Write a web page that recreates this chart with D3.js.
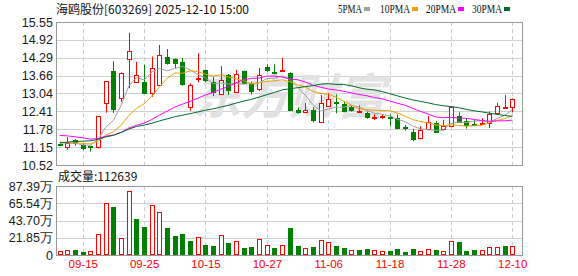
<!DOCTYPE html>
<html>
<head>
<meta charset="utf-8">
<script src="https://cdn.jsdelivr.net/npm/d3@7"></script>
<style>
  body { margin: 0; background: #fff; }
  svg text { font-family: "Liberation Sans", Arial, sans-serif; }
</style>
</head>
<body>
<script>
'use strict';

// trading days on the chart
const dates = [
  '09-10','09-11','09-12','09-15','09-16','09-17','09-18','09-19','09-22','09-23',
  '09-24','09-25','09-26','09-29','09-30','10-09','10-10','10-13','10-14','10-15',
  '10-16','10-17','10-20','10-21','10-22','10-23','10-24','10-27','10-28','10-29',
  '10-30','10-31','11-03','11-04','11-05','11-06','11-07','11-10','11-11','11-12',
  '11-13','11-14','11-17','11-18','11-19','11-20','11-21','11-24','11-25','11-26',
  '11-27','11-28','12-01','12-02','12-03','12-04','12-05','12-08','12-09','12-10'
];

const opens = [
  11.26, 11.16, 11.41, 11.21, 11.19, 11.14, 12.71, 13.84, 12.90, 14.24,
  13.43, 13.44, 13.04, 13.33, 14.32, 14.25, 14.15, 12.55, 13.56, 13.86,
  13.44, 13.01, 13.68, 13.08, 13.82, 13.42, 13.17, 13.98, 13.78, 13.80,
  13.76, 12.44, 12.38, 12.45, 12.02, 12.58, 12.73, 12.67, 12.55, 12.40,
  12.36, 12.19, 12.21, 12.22, 12.16, 11.84, 11.67, 11.45, 11.76, 12.00,
  11.79, 11.87, 12.24, 12.07, 11.95, 11.95, 11.99, 12.33, 12.54, 12.55
];
const highs = [
  11.28, 11.50, 11.43, 11.25, 11.20, 12.24, 13.48, 14.17, 13.78, 15.17,
  14.15, 14.05, 14.33, 14.74, 14.60, 14.27, 14.28, 13.39, 14.45, 13.88,
  13.62, 14.00, 13.72, 13.86, 13.84, 13.45, 13.93, 14.06, 14.06, 14.29,
  13.78, 12.55, 12.70, 12.55, 12.98, 13.05, 13.00, 12.75, 12.60, 12.62,
  12.40, 12.30, 12.29, 12.30, 12.30, 11.93, 11.79, 11.88, 12.24, 12.06,
  12.11, 12.57, 12.37, 12.16, 12.13, 12.17, 12.40, 12.71, 12.98, 12.86
];
const lows = [
  11.18, 11.06, 11.20, 11.04, 10.99, 11.10, 12.36, 12.35, 12.74, 13.22,
  13.42, 13.02, 12.92, 13.30, 14.05, 13.93, 13.31, 12.43, 13.43, 13.43,
  12.95, 13.00, 12.98, 13.06, 13.38, 13.00, 13.12, 13.80, 13.71, 13.79,
  12.47, 12.33, 12.37, 12.01, 12.02, 12.56, 12.34, 12.38, 12.40, 12.38,
  12.15, 12.10, 12.14, 11.88, 11.78, 11.73, 11.36, 11.42, 11.75, 11.65,
  11.73, 11.85, 12.00, 11.80, 11.90, 11.92, 11.82, 12.30, 12.53, 12.37
];
const closes = [
  11.24, 11.30, 11.29, 11.12, 11.14, 12.23, 13.47, 12.50, 13.77, 14.53,
  13.69, 13.05, 13.92, 14.39, 14.12, 14.11, 13.39, 13.33, 13.58, 13.52,
  13.09, 13.50, 13.14, 13.71, 13.40, 13.13, 13.68, 13.89, 13.76, 13.85,
  12.47, 12.36, 12.45, 12.11, 12.69, 12.83, 12.70, 12.43, 12.44, 12.42,
  12.21, 12.22, 12.23, 12.19, 11.81, 11.80, 11.44, 11.74, 12.02, 11.67,
  11.88, 12.55, 12.04, 11.93, 11.92, 11.98, 12.32, 12.58, 12.56, 12.84
];
// volume in 手
const volumes = [
  51000, 63000, 68000, 42000, 51000, 266000, 659000, 608000, 211000, 811000,
  456000, 355000, 633000, 545000, 342000, 241000, 266000, 177000, 224000, 127000,
  114000, 249000, 152000, 173000, 89000, 97000, 198000, 122000, 89000, 122000,
  342000, 114000, 84000, 101000, 190000, 165000, 114000, 89000, 63000, 63000,
  76000, 63000, 51000, 55000, 72000, 38000, 76000, 55000, 72000, 63000,
  51000, 173000, 165000, 51000, 63000, 59000, 97000, 97000, 114000, 112639
];
// closes of the days before 09-10, only used to start the moving averages
const priorCloses = [
  10.62, 10.70, 10.66, 10.74, 10.80, 10.77, 10.85, 10.82, 10.90, 10.94,
  11.62, 11.95, 11.88, 12.02, 11.84, 11.76, 11.70, 11.81, 11.67, 11.65,
  11.52, 11.40, 11.31, 11.28, 11.29, 11.33, 11.34, 11.39, 11.20
];

const priceTicks = [10.52, 11.15, 11.78, 12.41, 13.04, 13.66, 14.29, 14.92, 15.55];
const volTicks = [0, 218475, 436950, 655425, 873900];
const volTickLabels = ['0', '21.85万', '43.70万', '65.54万', '87.39万'];
const xTickLabels = ['09-15', '09-25', '10-15', '10-27', '11-06', '11-18', '11-28', '12-10'];
const maPeriods = [5, 10, 20, 30];

const maColors = ['#a0a0a0', '#f0a000', '#ff00ff', '#006b2e'];
const upColor = '#ff0000';
const downColor = '#008000';

const W = 578, H = 276;
const left = 56, right = 522;
const priceTop = 22, priceBottom = 165;
const volTop = 186, volBottom = 255;

const svg = d3.select('body').append('svg')
  .attr('width', W)
  .attr('height', H);

const x = d3.scalePoint()
  .domain(dates)
  .range([59.8, 512.2]);

const y = d3.scaleLinear()
  .domain([priceTicks[0], priceTicks[priceTicks.length - 1]])
  .range([priceBottom, priceTop]);

const yVol = d3.scaleLinear()
  .domain([0, volTicks[volTicks.length - 1]])
  .range([volBottom, volTop]);

const px = (d) => Math.round(x(d)) + 0.5;

// ---- grid for both panels
function drawGrid(ticks, scale, top, bottom) {
  svg.append('g').selectAll('line')
    .data(ticks.slice(1, -1))
    .enter().append('line')
      .attr('x1', left).attr('x2', right)
      .attr('y1', (d) => Math.round(scale(d)) + 0.5)
      .attr('y2', (d) => Math.round(scale(d)) + 0.5)
      .attr('stroke', '#d0d0d0');

  svg.append('g').selectAll('line')
    .data(xTickLabels)
    .enter().append('line')
      .attr('x1', px).attr('x2', px)
      .attr('y1', top).attr('y2', bottom)
      .attr('stroke', '#cccccc')
      .attr('stroke-dasharray', '4,3');

  svg.append('rect')
    .attr('x', left + 0.5).attr('y', top + 0.5)
    .attr('width', right - left).attr('height', bottom - top)
    .attr('fill', 'none')
    .attr('stroke', '#999');
}
drawGrid(priceTicks, y, priceTop, priceBottom);
drawGrid(volTicks, yVol, volTop, volBottom);

// watermark
svg.append('text')
  .attr('x', 193).attr('y', 114)
  .style('font-family', '"Noto Sans CJK SC"')
  .style('font-size', '48px')
  .style('font-weight', 'bold')
  .style('font-style', 'italic')
  .attr('fill', '#e2e2e2')
  .text('东方财富');

// ---- axes
const yAxis = d3.axisLeft(y).tickValues(priceTicks).tickSize(0).tickPadding(3)
  .tickFormat((d) => d.toFixed(2));
svg.append('g')
  .attr('transform', `translate(${left},0)`)
  .call(yAxis)
  .call((g) => g.select('.domain').remove())
  .selectAll('text')
    .style('font-family', '"Liberation Sans", Arial, sans-serif')
    .style('font-size', '12.5px')
    .attr('fill', '#1a1a1a');

const volAxis = d3.axisLeft(yVol).tickValues(volTicks).tickSize(0).tickPadding(3)
  .tickFormat((d, i) => volTickLabels[i]);
svg.append('g')
  .attr('transform', `translate(${left},0)`)
  .call(volAxis)
  .call((g) => g.select('.domain').remove())
  .selectAll('text')
    .style('font-family', '"Liberation Sans", Arial, sans-serif')
    .style('font-size', '12.5px')
    .attr('fill', '#1a1a1a');

const xAxis = d3.axisBottom(x).tickValues(xTickLabels).tickSize(0).tickPadding(5);
svg.append('g')
  .attr('transform', `translate(0,${volBottom})`)
  .call(xAxis)
  .call((g) => g.select('.domain').remove())
  .selectAll('text')
    .style('font-family', '"Liberation Sans", Arial, sans-serif')
    .style('font-size', '11.5px')
    .attr('fill', upColor);

// ---- candles
const rows = dates.map((d, i) => ({
  date: d, open: opens[i], high: highs[i], low: lows[i], close: closes[i],
  vol: volumes[i], prev: i > 0 ? closes[i - 1] : priorCloses[priorCloses.length - 1]
}));

const candle = svg.append('g').selectAll('g')
  .data(rows)
  .enter().append('g');

candle.append('line')
  .attr('x1', (d) => px(d.date)).attr('x2', (d) => px(d.date))
  .attr('y1', (d) => y(d.high)).attr('y2', (d) => y(d.low))
  .attr('stroke', (d) => d.close >= d.open ? upColor : downColor);

candle.append('rect')
  .attr('x', (d) => px(d.date) - 2)
  .attr('width', 4)
  .attr('y', (d) => Math.round(y(Math.max(d.open, d.close))) + 0.5)
  .attr('height', (d) => Math.max(0, Math.round(Math.abs(y(d.open) - y(d.close)))))
  .attr('fill', (d) => d.close >= d.open ? '#fff' : downColor)
  .attr('stroke', (d) => d.close >= d.open ? upColor : downColor);

// ---- moving averages
const allCloses = priorCloses.concat(closes);
const offset = priorCloses.length;
maPeriods.forEach((p, k) => {
  const ma = closes.map((c, i) => d3.mean(allCloses.slice(offset + i - p + 1, offset + i + 1)));
  svg.append('path')
    .datum(ma)
    .attr('fill', 'none')
    .attr('stroke', maColors[k])
    .attr('stroke-width', 1)
    .attr('d', d3.line().x((d, i) => x(dates[i])).y((d) => y(d)));
});

// ---- volume bars
svg.append('g').selectAll('rect')
  .data(rows)
  .enter().append('rect')
    .attr('x', (d) => px(d.date) - 2)
    .attr('width', 4)
    .attr('y', (d) => Math.round(yVol(d.vol)) + 0.5)
    .attr('height', (d) => volBottom - Math.round(yVol(d.vol)) - 1)
    .attr('fill', (d) => d.close >= d.prev ? '#fff' : downColor)
    .attr('stroke', (d) => d.close >= d.prev ? upColor : downColor);

// ---- texts
svg.append('text')
  .attr('x', 56).attr('y', 14)
  .style('font-family', '"Noto Sans CJK SC", sans-serif')
  .style('font-size', '12px')
  .attr('fill', '#111')
  .text('海鸥股份[603269] 2025-12-10 15:00');

svg.append('text')
  .attr('x', 58).attr('y', 181)
  .style('font-family', '"Noto Sans CJK SC", sans-serif')
  .style('font-size', '12px')
  .attr('fill', '#111')
  .text('成交量:' + volumes[volumes.length - 1]);

// legend, half-width glyphs like the original
const legendX = [338, 380, 426, 472];
maPeriods.forEach((p, k) => {
  const label = p + 'PMA';
  const w = label.length * 6;
  svg.append('text')
    .attr('x', legendX[k]).attr('y', 13)
    .attr('textLength', w)
    .attr('lengthAdjust', 'spacingAndGlyphs')
    .style('font-family', '"Liberation Serif", serif')
    .style('font-size', '12.5px')
    .attr('fill', '#111')
    .text(label);
  svg.append('rect')
    .attr('x', legendX[k] + w + 2).attr('y', 7)
    .attr('width', 6).attr('height', 4)
    .attr('fill', maColors[k]);
});
</script>
</body>
</html>
